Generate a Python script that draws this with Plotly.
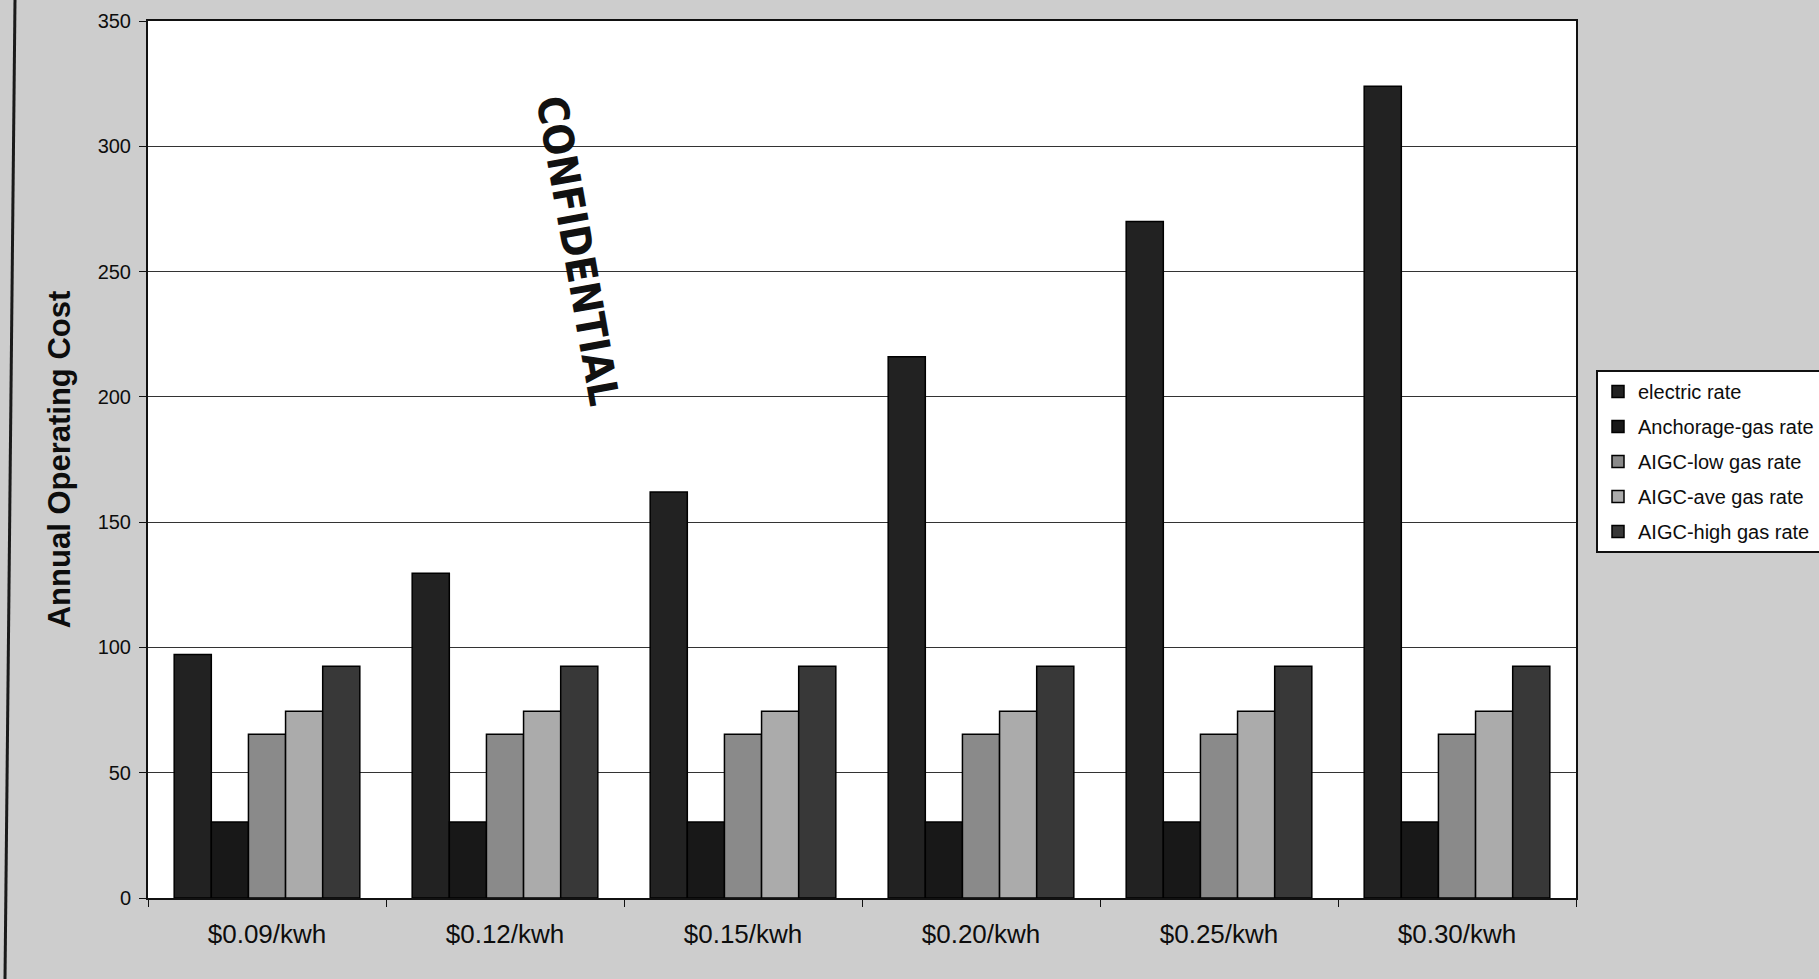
import plotly.graph_objects as go

# Electricity price scenarios (x categories)
categories = ["$0.09/kwh", "$0.12/kwh", "$0.15/kwh", "$0.20/kwh", "$0.25/kwh", "$0.30/kwh"]

# Annual operating cost per scenario
electric_rate = [97.2, 129.6, 162.0, 216.0, 270.0, 324.0]
anchorage_gas_rate = [30.3, 30.3, 30.3, 30.3, 30.3, 30.3]
aigc_low_gas_rate = [65.4, 65.4, 65.4, 65.4, 65.4, 65.4]
aigc_ave_gas_rate = [74.5, 74.5, 74.5, 74.5, 74.5, 74.5]
aigc_high_gas_rate = [92.5, 92.5, 92.5, 92.5, 92.5, 92.5]

y_ticks = [0, 50, 100, 150, 200, 250, 300, 350]

series = [
    ("electric rate", electric_rate, "#222222"),
    ("Anchorage-gas rate", anchorage_gas_rate, "#181818"),
    ("AIGC-low gas rate", aigc_low_gas_rate, "#8a8a8a"),
    ("AIGC-ave gas rate", aigc_ave_gas_rate, "#ababab"),
    ("AIGC-high gas rate", aigc_high_gas_rate, "#383838"),
]

FONT = "Liberation Sans, Arial, sans-serif"
INK = "#0d0d0d"

fig = go.Figure()
for i, (name, vals, color) in enumerate(series):
    fig.add_trace(go.Bar(
        x=categories, y=vals, name=name,
        legendgroup=f"g{i}",
        marker=dict(color=color, line=dict(color="#000000", width=1.5)),
    ))

# plot-area geometry (pixels)
L, R, T, B = 148, 243, 21, 81
W, H = 1819, 979
pw, ph = W - L - R, H - T - B


def px_x(x):
    return (x - L) / pw


def px_y(y):
    return (H - B - y) / ph


fig.update_layout(
    width=W, height=H,
    margin=dict(l=L, r=R, t=T, b=B, pad=0, autoexpand=False),
    paper_bgcolor="#cdcdcd",
    plot_bgcolor="#ffffff",
    barmode="group",
    bargap=0.22,
    bargroupgap=0,
    font=dict(family=FONT, color=INK),
    showlegend=True,
    legend=dict(
        x=px_x(1596), y=px_y(370), xanchor="left", yanchor="top",
        bgcolor="#ffffff", bordercolor="#111111", borderwidth=2,
        font=dict(family=FONT, size=20, color=INK),
        traceorder="grouped", tracegroupgap=6,
        itemwidth=30,
    ),
    xaxis=dict(
        type="category",
        showline=True, linecolor="#111111", linewidth=2, mirror=True,
        ticks="outside", tickson="boundaries", ticklen=7, tickcolor="#111111",
        tickfont=dict(family=FONT, size=26, color=INK),
        ticklabelstandoff=12,
        showgrid=False,
    ),
    yaxis=dict(
        range=[0, 350],
        tickvals=y_ticks,
        showline=True, linecolor="#111111", linewidth=2, mirror=True,
        ticks="outside", ticklen=7, tickcolor="#111111",
        tickfont=dict(family=FONT, size=20, color=INK),
        ticklabelstandoff=4,
        showgrid=True, gridcolor="#333333", gridwidth=1.3,
        zeroline=False,
        title=dict(text="<b>Annual Operating Cost</b>",
                   font=dict(family=FONT, size=31, color=INK),
                   standoff=18),
    ),
    annotations=[
        dict(
            text="<b>CONFIDENTIAL</b>",
            x=px_x(578), y=px_y(250), xref="paper", yref="paper",
            xanchor="center", yanchor="middle",
            showarrow=False, textangle=80,
            font=dict(family="DejaVu Sans Condensed, Liberation Sans Narrow, DejaVu Sans, sans-serif",
                      size=42, color="#111111"),
        )
    ],
    shapes=[
        # page edge on the left
        dict(type="line", xref="paper", yref="paper",
             x0=px_x(15), y0=px_y(0), x1=px_x(5), y1=px_y(979),
             line=dict(color="#1a1a1a", width=3)),
    ],
)

fig.write_html("out.html")
